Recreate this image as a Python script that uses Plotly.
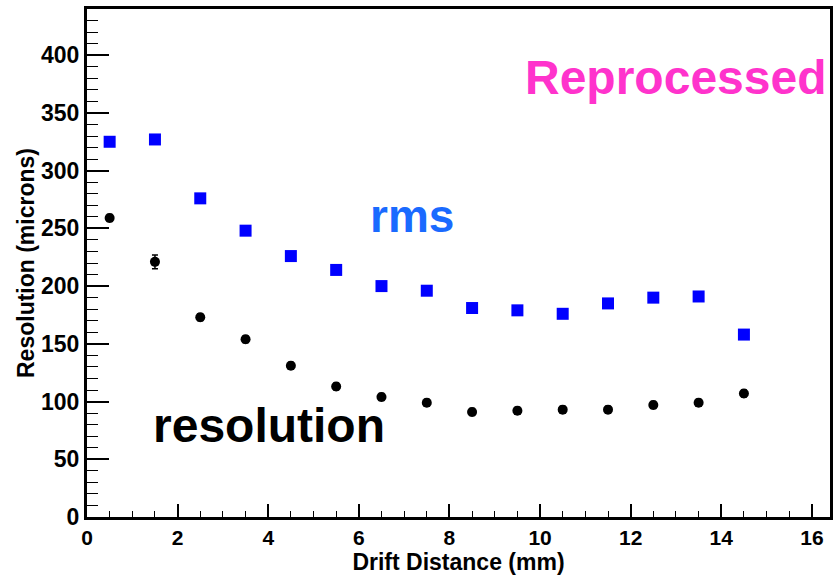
import plotly.graph_objects as go

x_vals = [0.5, 1.5, 2.5, 3.5, 4.5, 5.5, 6.5, 7.5, 8.5, 9.5, 10.5, 11.5, 12.5, 13.5, 14.5]
rms_vals = [325, 327, 276, 248, 226, 214, 200, 196, 181, 179, 176, 185, 190, 191, 158]
res_vals = [259, 221, 173, 154, 131, 113, 104, 99, 91, 92, 93, 93, 97, 99, 107]
res_err = [3, 6, 3, 3, 3, 3, 3, 3, 3, 3, 3, 3, 3, 3, 3]

FONT = "Liberation Sans, Arial, sans-serif"

fig = go.Figure()
fig.add_trace(go.Scatter(
    x=x_vals, y=rms_vals, mode="markers",
    marker=dict(symbol="square", size=12, color="#0000ff", line=dict(width=0)),
    showlegend=False))
fig.add_trace(go.Scatter(
    x=x_vals, y=res_vals, mode="markers",
    error_y=dict(type="data", array=res_err, color="black", thickness=1.5, width=3),
    marker=dict(symbol="circle", size=10, color="black", line=dict(width=0)),
    showlegend=False))

fig.add_annotation(x=12.99, y=381, text="<b>Reprocessed</b>", showarrow=False,
                   font=dict(family=FONT, size=48, color="#ff33cc"))
fig.add_annotation(x=7.17, y=261, text="<b>rms</b>", showarrow=False,
                   font=dict(family=FONT, size=46, color="#1a6aff"))
fig.add_annotation(x=4.02, y=79, text="<b>resolution</b>", showarrow=False,
                   font=dict(family=FONT, size=48, color="black"))

fig.update_layout(
    width=837, height=579,
    margin=dict(l=87, r=4, t=9, b=62),
    paper_bgcolor="white", plot_bgcolor="white",
    font=dict(family=FONT, color="black"),
    xaxis=dict(range=[0, 16.4], dtick=2, tick0=0, ticks="inside", ticklen=13, tickwidth=1.5,
               tickcolor="black", showgrid=False, zeroline=False,
               showline=True, linecolor="black", linewidth=3, mirror=True,
               tickfont=dict(family=FONT, size=21, color="black", weight="bold"),
               minor=dict(dtick=0.5, ticks="inside", ticklen=6, tickcolor="black", tickwidth=1.2),
               title=dict(text="<b>Drift Distance (mm)</b>", font=dict(family=FONT, size=23), standoff=0)),
    yaxis=dict(range=[0, 440], dtick=50, tick0=0, ticks="inside", ticklen=22, tickwidth=1.5,
               tickcolor="black", showgrid=False, zeroline=False,
               showline=True, linecolor="black", linewidth=3, mirror=True,
               tickfont=dict(family=FONT, size=23, color="black", weight="bold"),
               minor=dict(dtick=10, ticks="inside", ticklen=11, tickcolor="black", tickwidth=1.2),
               title=dict(text="<b>Resolution (microns)</b>", font=dict(family=FONT, size=23), standoff=0)),
)

fig.write_html("out.html")
